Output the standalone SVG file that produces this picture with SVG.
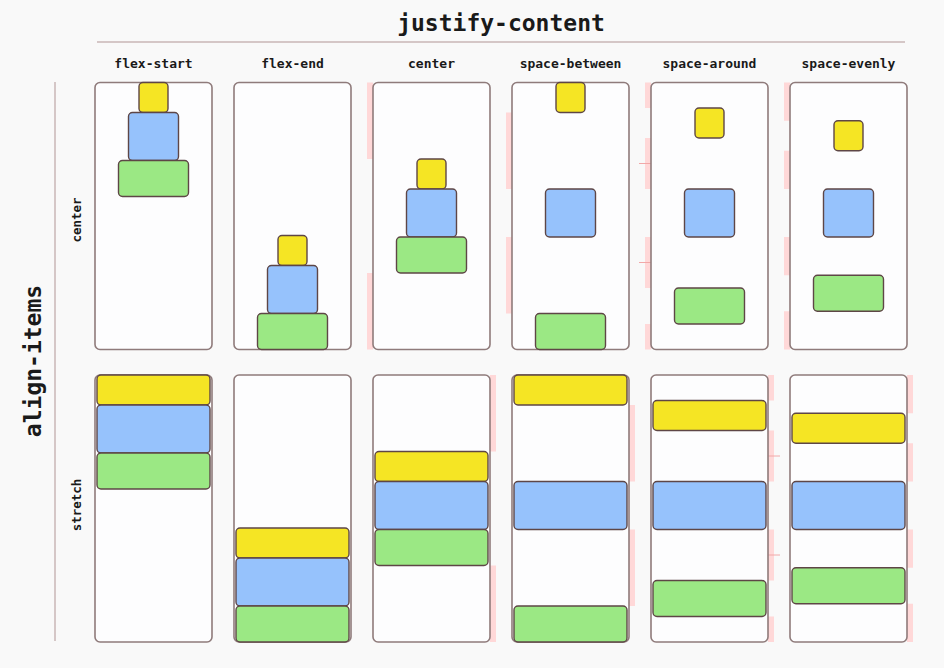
<svg xmlns="http://www.w3.org/2000/svg" width="944" height="668" viewBox="0 0 944 668">
<style>
.bg{fill:#f9f9f9}
.box{fill:#fdfdfe;stroke:#8f7b7b;stroke-width:1.6}
.it{stroke:#5e4646;stroke-width:1.4}
.y{fill:#f5e524}
.b{fill:#96c2fc}
.g{fill:#9be884}
.gap{fill:#ffd8d8}
.tick{stroke:#f2a8a8;stroke-width:1}
.rule{stroke:#c9b6b6;stroke-width:1.5}
text{font-family:"DejaVu Sans Mono","Liberation Mono",monospace;font-weight:bold;fill:#1a1a1a}
.h{font-size:23px}
.c{font-size:13px;text-anchor:middle}
.r{font-size:12.5px;text-anchor:middle}
</style>
<defs>
<rect id="cont" width="117" height="267" rx="5"/>
</defs>
<rect class="bg" width="944" height="668"/>
<g id="titles">
<text class="h" x="501" y="31" text-anchor="middle">justify-content</text>
<line class="rule" x1="97" y1="42" x2="905" y2="42"/>
<text class="c" x="153.5" y="68">flex-start</text>
<text class="c" x="292.5" y="68">flex-end</text>
<text class="c" x="431.5" y="68">center</text>
<text class="c" x="570.5" y="68">space-between</text>
<text class="c" x="709.5" y="68">space-around</text>
<text class="c" x="848.5" y="68">space-evenly</text>
<text class="h" transform="translate(41,361) rotate(-90)" text-anchor="middle">align-items</text>
<line class="rule" x1="55" y1="82" x2="55" y2="641"/>
<text class="r" transform="translate(81,220) rotate(-90)">center</text>
<text class="r" transform="translate(81,505) rotate(-90)">stretch</text>
</g>
<g id="gaps">
<rect class="gap" x="367" y="82.5" width="6" height="76.5"/>
<rect class="gap" x="367" y="273" width="6" height="76.5"/>
<rect class="gap" x="506" y="112.5" width="6" height="76.5"/>
<rect class="gap" x="506" y="237" width="6" height="76.5"/>
<rect class="gap" x="645" y="82.5" width="6" height="25.5"/>
<rect class="gap" x="645" y="138" width="6" height="51"/>
<rect class="gap" x="645" y="237" width="6" height="51"/>
<rect class="gap" x="645" y="324" width="6" height="25.5"/>
<line class="tick" x1="639" y1="163.5" x2="651" y2="163.5"/>
<line class="tick" x1="639" y1="262.5" x2="651" y2="262.5"/>
<rect class="gap" x="784" y="82.5" width="6" height="38.25"/>
<rect class="gap" x="784" y="150.75" width="6" height="38.25"/>
<rect class="gap" x="784" y="237" width="6" height="38.25"/>
<rect class="gap" x="784" y="311.25" width="6" height="38.25"/>
<rect class="gap" x="490" y="375" width="6" height="76.5"/>
<rect class="gap" x="490" y="565.5" width="6" height="76.5"/>
<rect class="gap" x="629" y="405" width="6" height="76.5"/>
<rect class="gap" x="629" y="529.5" width="6" height="76.5"/>
<rect class="gap" x="768" y="375" width="6" height="25.5"/>
<rect class="gap" x="768" y="430.5" width="6" height="51"/>
<rect class="gap" x="768" y="529.5" width="6" height="51"/>
<rect class="gap" x="768" y="616.5" width="6" height="25.5"/>
<line class="tick" x1="768" y1="456" x2="780" y2="456"/>
<line class="tick" x1="768" y1="555" x2="780" y2="555"/>
<rect class="gap" x="907" y="375" width="6" height="38.25"/>
<rect class="gap" x="907" y="443.25" width="6" height="38.25"/>
<rect class="gap" x="907" y="529.5" width="6" height="38.25"/>
<rect class="gap" x="907" y="603.75" width="6" height="38.25"/>
</g>
<g id="connectors"/>
<!-- row 1: align-items center -->
<g id="center-flex-start">
<use href="#cont" class="box" x="95" y="82.5"/>
<rect class="it y" x="139" y="82.5" width="29" height="30" rx="4"/>
<rect class="it b" x="128.5" y="112.5" width="50" height="48" rx="4"/>
<rect class="it g" x="118.5" y="160.5" width="70" height="36" rx="4"/>
</g>
<g id="center-flex-end">
<use href="#cont" class="box" x="234" y="82.5"/>
<rect class="it y" x="278" y="235.5" width="29" height="30" rx="4"/>
<rect class="it b" x="267.5" y="265.5" width="50" height="48" rx="4"/>
<rect class="it g" x="257.5" y="313.5" width="70" height="36" rx="4"/>
</g>
<g id="center-center">
<use href="#cont" class="box" x="373" y="82.5"/>
<rect class="it y" x="417" y="159" width="29" height="30" rx="4"/>
<rect class="it b" x="406.5" y="189" width="50" height="48" rx="4"/>
<rect class="it g" x="396.5" y="237" width="70" height="36" rx="4"/>
</g>
<g id="center-space-between">
<use href="#cont" class="box" x="512" y="82.5"/>
<rect class="it y" x="556" y="82.5" width="29" height="30" rx="4"/>
<rect class="it b" x="545.5" y="189" width="50" height="48" rx="4"/>
<rect class="it g" x="535.5" y="313.5" width="70" height="36" rx="4"/>
</g>
<g id="center-space-around">
<use href="#cont" class="box" x="651" y="82.5"/>
<rect class="it y" x="695" y="108" width="29" height="30" rx="4"/>
<rect class="it b" x="684.5" y="189" width="50" height="48" rx="4"/>
<rect class="it g" x="674.5" y="288" width="70" height="36" rx="4"/>
</g>
<g id="center-space-evenly">
<use href="#cont" class="box" x="790" y="82.5"/>
<rect class="it y" x="834" y="120.75" width="29" height="30" rx="4"/>
<rect class="it b" x="823.5" y="189" width="50" height="48" rx="4"/>
<rect class="it g" x="813.5" y="275.25" width="70" height="36" rx="4"/>
</g>
<!-- row 2: align-items stretch -->
<g id="stretch-flex-start">
<use href="#cont" class="box" x="95" y="375"/>
<rect class="it y" x="97" y="375" width="113" height="30" rx="4"/>
<rect class="it b" x="97" y="405" width="113" height="48" rx="4"/>
<rect class="it g" x="97" y="453" width="113" height="36" rx="4"/>
</g>
<g id="stretch-flex-end">
<use href="#cont" class="box" x="234" y="375"/>
<rect class="it y" x="236" y="528" width="113" height="30" rx="4"/>
<rect class="it b" x="236" y="558" width="113" height="48" rx="4"/>
<rect class="it g" x="236" y="606" width="113" height="36" rx="4"/>
</g>
<g id="stretch-center">
<use href="#cont" class="box" x="373" y="375"/>
<rect class="it y" x="375" y="451.5" width="113" height="30" rx="4"/>
<rect class="it b" x="375" y="481.5" width="113" height="48" rx="4"/>
<rect class="it g" x="375" y="529.5" width="113" height="36" rx="4"/>
</g>
<g id="stretch-space-between">
<use href="#cont" class="box" x="512" y="375"/>
<rect class="it y" x="514" y="375" width="113" height="30" rx="4"/>
<rect class="it b" x="514" y="481.5" width="113" height="48" rx="4"/>
<rect class="it g" x="514" y="606" width="113" height="36" rx="4"/>
</g>
<g id="stretch-space-around">
<use href="#cont" class="box" x="651" y="375"/>
<rect class="it y" x="653" y="400.5" width="113" height="30" rx="4"/>
<rect class="it b" x="653" y="481.5" width="113" height="48" rx="4"/>
<rect class="it g" x="653" y="580.5" width="113" height="36" rx="4"/>
</g>
<g id="stretch-space-evenly">
<use href="#cont" class="box" x="790" y="375"/>
<rect class="it y" x="792" y="413.25" width="113" height="30" rx="4"/>
<rect class="it b" x="792" y="481.5" width="113" height="48" rx="4"/>
<rect class="it g" x="792" y="567.75" width="113" height="36" rx="4"/>
</g>
</svg>
